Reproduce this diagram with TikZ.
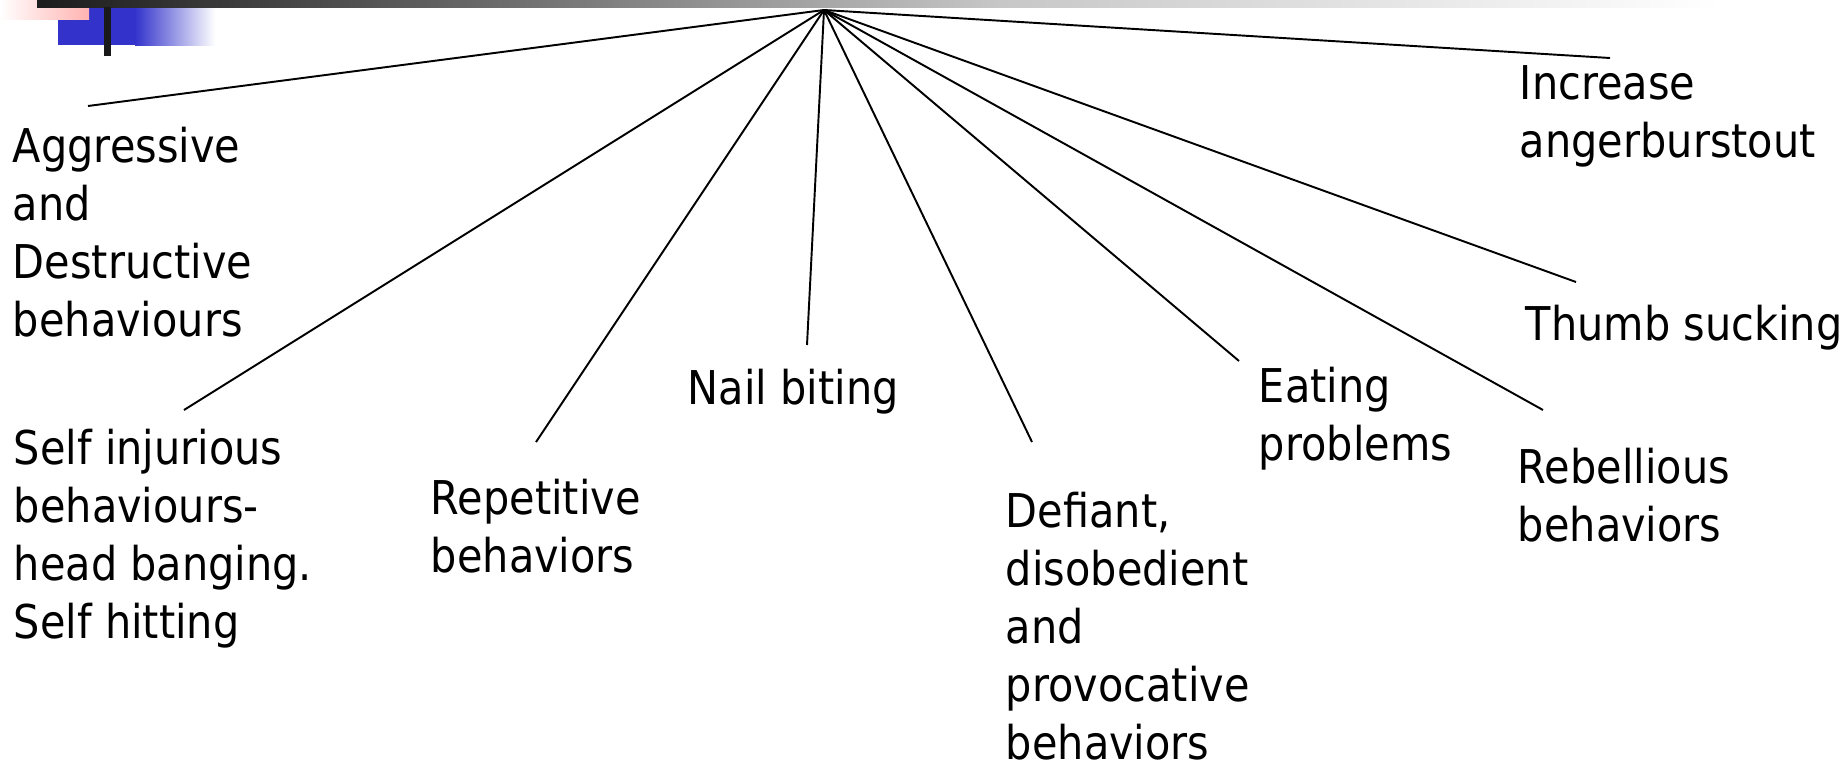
\documentclass[tikz,border=0pt]{standalone}
\usepackage{fontspec}
\setmainfont{DejaVu Sans}[FakeStretch=0.89]
\usetikzlibrary{positioning}
\definecolor{slideblue}{HTML}{3333CC}
\definecolor{slidepink}{HTML}{FFB3B0}

\begin{document}
\begin{tikzpicture}[x=0.02cm,y=-0.02cm,line width=1.1pt,
  lbl/.style={anchor=base west,inner sep=0pt,align=left,
              font=\fontsize{26.5pt}{33pt}\selectfont}]
  \useasboundingbox (0,0) rectangle (1845,771);

  % slide decoration
  \fill[slideblue] (58,7) rectangle (135,45);
  \shade[left color=slideblue,right color=white] (135,7) rectangle (215,45);
  \shade[left color=white,right color=slidepink] (0,0) rectangle (89,19);
  \shade[left color=black!89,right color=black!72] (37,0) rectangle (300,7);
  \shade[left color=black!72,right color=black!22] (299.5,0) rectangle (1000,7);
  \shade[left color=black!22,right color=white] (999.5,0) rectangle (1720,7);
  \fill[black!90] (104,7) rectangle (111,56);

  \coordinate (hub) at (824,10);

  % labels, placed at the baseline of their last line
  \node[lbl] (aggr)  at (12,336)   {Aggressive\\and\\Destructive\\behaviours};
  \node[lbl] (self)  at (13,638)   {Self injurious\\behaviours-\\head banging.\\Self hitting};
  \node[lbl] (rep)   at (430,572)  {Repetitive\\behaviors};
  \node[lbl] (nail)  at (687,404)  {Nail biting};
  \node[lbl] (defi)  at (1005,759) {Defiant,\\disobedient\\and\\provocative\\behaviors};
  \node[lbl] (eat)   at (1258,460) {Eating\\problems};
  \node[lbl] (thumb) at (1525,340) {Thumb sucking};
  \node[lbl] (rebel) at (1517,541) {Rebellious\\behaviors};
  \node[lbl] (anger) at (1519,157) {Increase\\angerburstout};

  \coordinate (aggr-end)  at (88,106);
  \coordinate (self-end)  at (184,410);
  \coordinate (rep-end)   at (536,442);
  \coordinate (nail-end)  at (807,345);
  \coordinate (defi-end)  at (1032,442);
  \coordinate (eat-end)   at (1239,361);
  \coordinate (rebel-end) at (1543,410);
  \coordinate (thumb-end) at (1576,282);
  \coordinate (anger-end) at (1610,58);

  \path (hub) edge (aggr-end)
              edge (self-end)
              edge (rep-end)
              edge (nail-end)
              edge (defi-end)
              edge (eat-end)
              edge (rebel-end)
              edge (thumb-end)
              edge (anger-end);
\end{tikzpicture}
\end{document}
